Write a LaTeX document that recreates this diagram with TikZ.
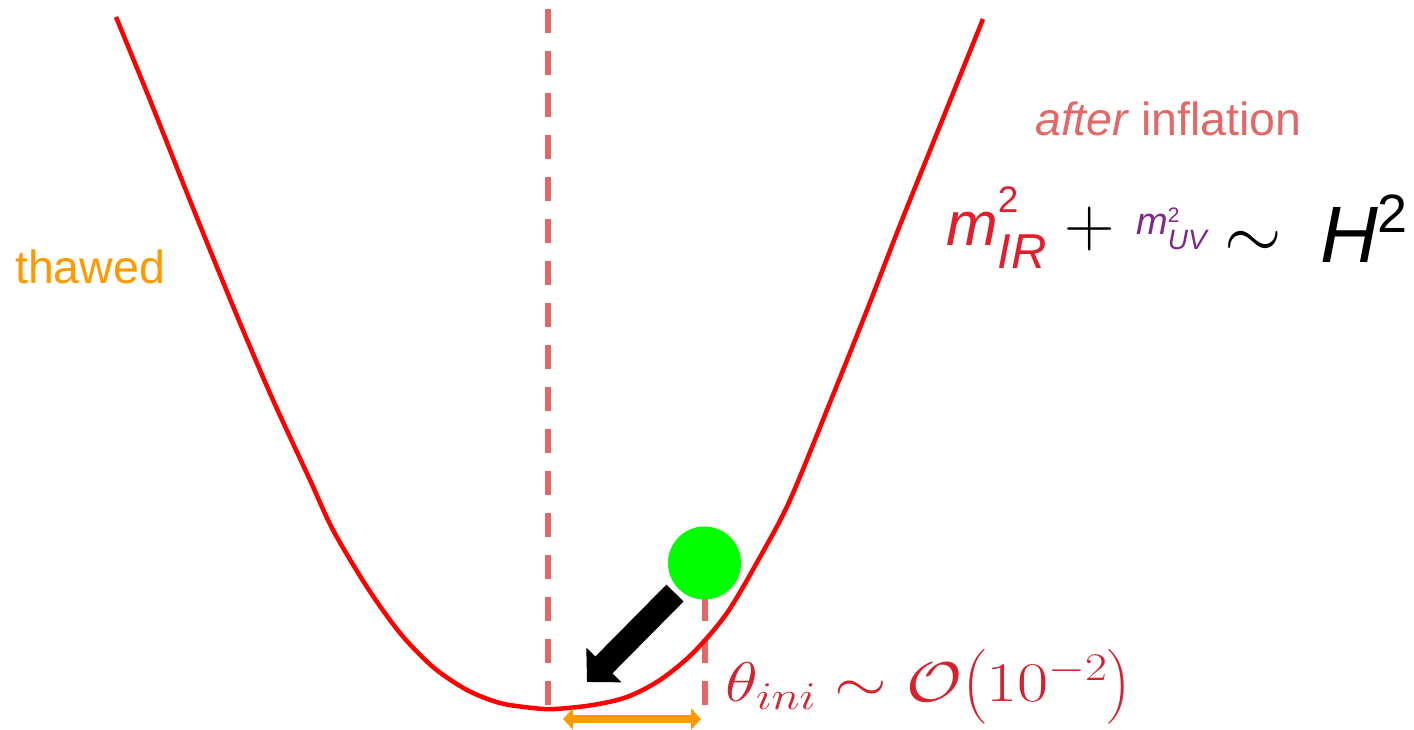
\RequirePackage{fix-cm}
\documentclass[tikz,border=0pt]{standalone}
\usepackage{amsmath}
\usepackage{fontspec}
\newfontfamily\arialfont{Liberation Sans}
\usepackage{tikz}
\usetikzlibrary{arrows.meta}
\definecolor{curvecolor}{RGB}{255, 0, 0}
\definecolor{guidecolor}{RGB}{226, 104, 104}
\definecolor{thawcolor}{RGB}{255, 153, 0}
\definecolor{ballcolor}{RGB}{0, 255, 0}
\definecolor{eqred}{RGB}{226, 30, 44}
\definecolor{uvcolor}{RGB}{128, 38, 140}
\definecolor{thetacolor}{RGB}{214, 34, 46}
\tikzset{
potential/.style={
  draw=curvecolor,
  line width=4.5pt
},
guide/.style={
  draw=guidecolor,
  line width=6pt,
  dash pattern=on 24pt off 18pt
},
pusharrow/.style={
  -{Triangle[length=24pt,width=48pt]},
  line width=24pt,
  draw=black
},
spanarrow/.style={
  {Triangle[length=10pt,width=21pt]}-{Triangle[length=10pt,width=21pt]},
  line width=8pt,
  draw=thawcolor
},
sanslabel/.style={
  anchor=base west,
  inner sep=0pt,
  font=\arialfont\fontsize{46.5}{50}\selectfont
},
eqpart/.style={
  anchor=base west,
  inner sep=0pt
}
}

\begin{document}
\begin{tikzpicture}[x=1pt, y=-1pt]
  % Frame in pixels, y downwards
  \useasboundingbox (0,0) rectangle (1414,729);

  % Guide lines (minimum and initial position)
  \draw[guide] (548,9) -- (548,708);
  \draw[guide] (705,597) -- (705,708);

  % Potential
  \draw[potential] plot[smooth] coordinates {
    (116,17) (150,100) (183,183) (210,250) (240,323) (273,400)
    (310,480) (333,530) (367,587) (400,633) (433,667) (467,690)
    (500,703) (533,708) (555,709) (593,705) (627,697) (660,680)
    (693,653) (727,613) (760,557) (790,500) (833,395) (867,310)
    (900,225) (933,143) (983,19)};

  % Field and its push
  \node[circle, fill=ballcolor, minimum size=73pt, inner sep=0pt] (ball) at (704.5,563) {};
  \coordinate (pushtail) at (675,593);
  \coordinate (pushtip) at (587,682);
  \draw[pusharrow] (pushtail) -- (pushtip);

  % Initial displacement
  \coordinate (spanL) at (563,719);
  \coordinate (spanR) at (701,719);
  \draw[spanarrow] (spanL) -- (spanR);

  % Labels
  \node[sanslabel, text=thawcolor] (thawed) at (15,283) {thawed};
  \node[sanslabel, text=guidecolor] (after) at (1035,135) {\itshape after\upshape{} inflation};

  % Mass relation
  \node[eqpart, text=eqred] (mir) at (946,245)
    {\arialfont\itshape\fontsize{62}{62}\selectfont m\rlap{\raisebox{33pt}{\upshape\fontsize{37}{37}\selectfont 2}}\raisebox{-23pt}{\fontsize{49}{49}\selectfont IR}};
  \node[eqpart] (plus) at (1064,246.5) {\fontsize{70}{70}\selectfont$+$};
  \node[eqpart, text=uvcolor] (muv) at (1136,234)
    {\arialfont\itshape\fontsize{38}{38}\selectfont m\rlap{\raisebox{12pt}{\upshape\fontsize{21}{21}\selectfont 2}}\raisebox{-15pt}{\fontsize{28}{28}\selectfont UV}};
  \node[eqpart] (sim) at (1224,258) {\fontsize{74}{74}\selectfont$\sim$};
  \node[eqpart] (hub) at (1320,262)
    {\arialfont\itshape\fontsize{80}{80}\selectfont H\raisebox{30pt}{\upshape\fontsize{54}{54}\selectfont 2}};

  % Initial angle
  \node[eqpart, text=thetacolor] (theta) at (725,701)
    {\fontsize{56}{56}\selectfont\scalebox{1.21}[1]{$\theta_{ini}\sim\mathcal{O}\bigl(10^{-2}\bigr)$}};
\end{tikzpicture}
\end{document}
